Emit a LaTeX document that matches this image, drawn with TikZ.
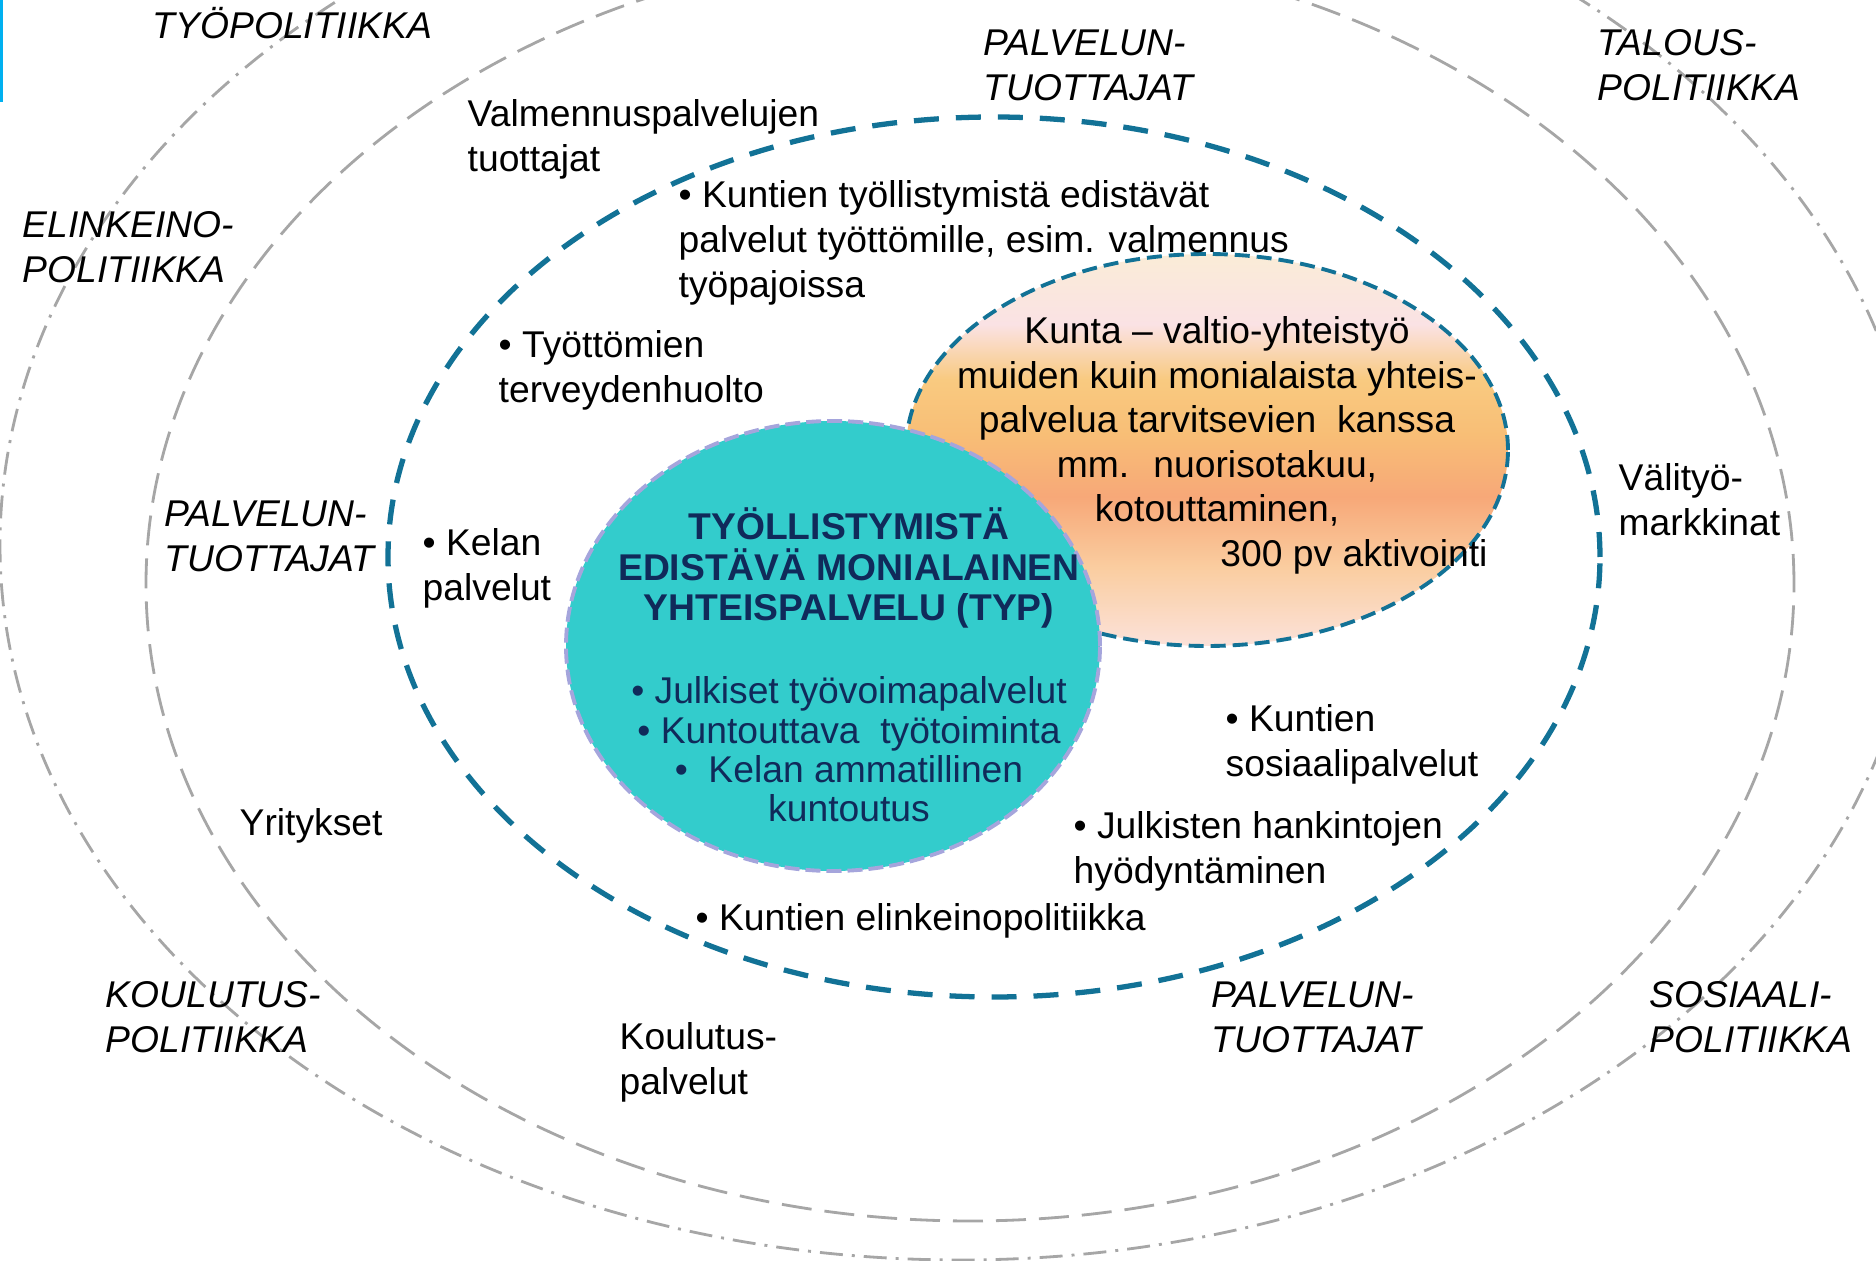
\documentclass[tikz,border=0pt]{standalone}
\usepackage{fontspec}
\setmainfont{Liberation Sans}
\usetikzlibrary{shapes.geometric}
\definecolor{ringgray}{RGB}{166,166,166}
\definecolor{ringblue}{RGB}{18,114,150}
\definecolor{typteal}{RGB}{51,204,204}
\definecolor{typedge}{RGB}{165,165,220}
\definecolor{typnavy}{RGB}{16,42,90}
\definecolor{cornercyan}{RGB}{0,176,240}
\definecolor{peachtop}{RGB}{250,236,215}
\definecolor{peachpink}{RGB}{250,226,228}
\definecolor{peachlight}{RGB}{249,202,128}
\definecolor{peachmid}{RGB}{248,190,118}
\definecolor{peachdeep}{RGB}{247,168,120}
\definecolor{peachlow}{RGB}{250,205,160}
\definecolor{peachbottom}{RGB}{251,226,218}
\pgfdeclareverticalshading{kuntashade}{100bp}{color(0bp)=(peachbottom); color(25bp)=(peachbottom);
  color(35bp)=(peachlow); color(44bp)=(peachdeep); color(52bp)=(peachmid);
  color(59bp)=(peachlight); color(66bp)=(peachpink); color(75bp)=(peachtop); color(100bp)=(peachtop)}

\begin{document}
\begin{tikzpicture}[x=0.1mm, y=-0.1mm,
    ring/.style={ellipse, inner sep=0pt},
    policyring/.style={ring, draw=ringgray, line width=0.8pt,
                       dash pattern=on 2.3mm off 0.9mm on 0.3mm off 0.9mm},
    providerring/.style={ring, draw=ringgray, line width=0.8pt, dash pattern=on 3mm off 1.3mm},
    localring/.style={ring, draw=ringblue, line width=1.5pt, dash pattern=on 2.5mm off 1.7mm},
    jointblob/.style={ring, draw=ringblue, line width=1.1pt, dash pattern=on 1.5mm off 0.7mm,
                      shading=kuntashade},
    typblob/.style={ring, fill=typteal, draw=typedge, line width=1.1pt, dash pattern=on 1.5mm off 0.6mm},
    txt/.style={inner sep=0pt, align=left, anchor=base west, font=\fontsize{10.6}{12.9}\selectfont},
    policytxt/.style={txt, font=\fontsize{10.6}{12.9}\selectfont\itshape},
    typhead/.style={inner sep=0pt, align=center, anchor=base, text=typnavy,
                    font=\fontsize{10.6}{11.6}\selectfont\bfseries},
    typitems/.style={inner sep=0pt, align=center, anchor=base, text=typnavy,
                     font=\fontsize{10.6}{11.2}\selectfont},
    kuntatxt/.style={inner sep=0pt, align=center, anchor=base, font=\fontsize{10.6}{12.7}\selectfont}
]
\useasboundingbox (0,0) rectangle (1876,1261);
\clip (0,0) rectangle (1876,1261);
\fill[cornercyan] (0,0) rectangle (3,102);

\node[policyring, minimum width=192mm, minimum height=143mm] (policy) at (960,545) {};
\node[providerring, minimum width=164.8mm, minimum height=127.4mm] (providers) at (970,584) {};
\node[localring, minimum width=121.2mm, minimum height=88mm] (local) at (994,557) {};
\node[jointblob, minimum width=60.2mm, minimum height=39.2mm] (joint) at (1207,450) {};
\node[typblob, minimum width=53.4mm, minimum height=45mm] (typ) at (833,646) {};

% positions are the baselines of the last lines
\node[policytxt] (tyopol) at (152,39) {TYÖPOLITIIKKA};
\node[policytxt] (palvtop) at (983,101) {PALVELUN-\\TUOTTAJAT};
\node[policytxt] (talous) at (1597,101) {TALOUS-\\POLITIIKKA};
\node[policytxt] (elinkeino) at (22,283) {ELINKEINO-\\POLITIIKKA};
\node[policytxt] (palvleft) at (164,572) {PALVELUN-\\TUOTTAJAT};
\node[policytxt] (koulutuspol) at (105,1053) {KOULUTUS-\\POLITIIKKA};
\node[policytxt] (palvbottom) at (1211,1053) {PALVELUN-\\TUOTTAJAT};
\node[policytxt] (sospol) at (1649,1053) {SOSIAALI-\\POLITIIKKA};

\node[txt] (valmennus) at (467,172) {Valmennuspalvelujen\\tuottajat};
\node[txt] (kuntatyo) at (678,298) {• Kuntien työllistymistä edistävät\\palvelut työttömille, esim. valmennus\\työpajoissa};
\node[txt] (terveys) at (498,403) {• Työttömien\\terveydenhuolto};
\node[txt] (kela) at (422,601) {• Kelan\\palvelut};
\node[txt] (valityo) at (1618,536) {Välityö-\\markkinat};
\node[txt] (sosiaali) at (1225,777) {• Kuntien\\sosiaalipalvelut};
\node[txt] (yritykset) at (239,836) {Yritykset};
\node[txt] (hankinnat) at (1073,884) {• Julkisten hankintojen\\hyödyntäminen};
\node[txt] (kuntaelink) at (695,931) {• Kuntien elinkeinopolitiikka};
\node[txt] (koulutuspalv) at (619,1095) {Koulutus-\\palvelut};

\node[kuntatxt] (kuntavaltio) at (1217,522) {Kunta – valtio-yhteistyö\\muiden kuin monialaista yhteis-\\palvelua tarvitsevien~ kanssa\\mm.~ nuorisotakuu,\\kotouttaminen,};
\node[kuntatxt] (aktivointi) at (1354,567) {300 pv aktivointi};

\node[typhead] (typtitle) at (849,621) {TYÖLLISTYMISTÄ\\EDISTÄVÄ MONIALAINEN\\YHTEISPALVELU (TYP)};
\node[typitems] (typlist) at (849,822) {• Julkiset työvoimapalvelut\\• Kuntouttava~ työtoiminta\\•~ Kelan ammatillinen\\kuntoutus};
\end{tikzpicture}
\end{document}
